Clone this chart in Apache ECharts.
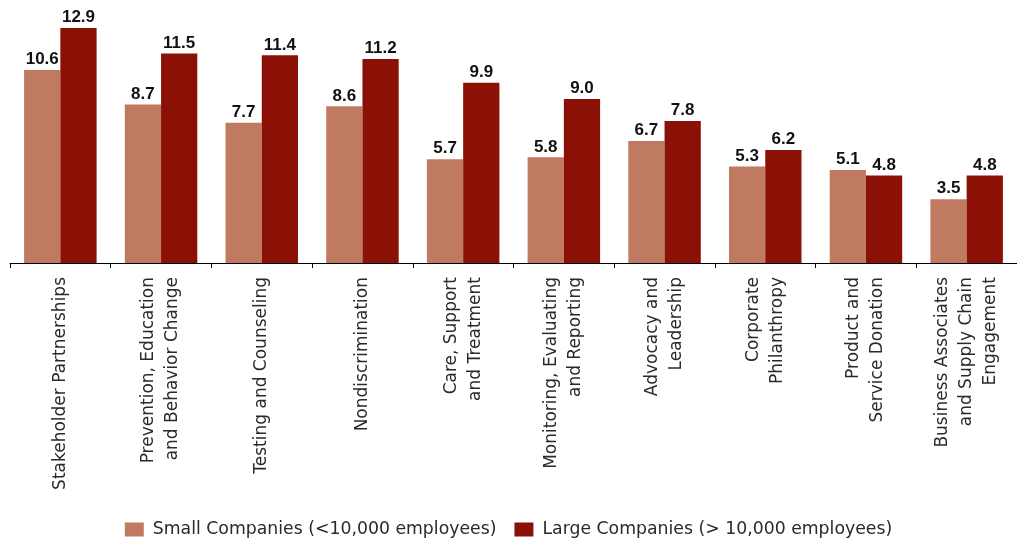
<!DOCTYPE html>
<html>
<head>
<meta charset="utf-8">
<script src="https://cdn.jsdelivr.net/npm/echarts@6/dist/echarts.min.js"></script>
<style>
  html, body { margin: 0; padding: 0; background: #fff; }
  #chart { width: 1017px; height: 539px; }
</style>
</head>
<body>
<div id="chart"></div>
<script>
let categories = [
	'Stakeholder Partnerships',
	'Prevention, Education\nand Behavior Change',
	'Testing and Counseling',
	'Nondiscrimination',
	'Care, Support\nand Treatment',
	'Monitoring, Evaluating\nand Reporting',
	'Advocacy and\nLeadership',
	'Corporate\nPhilanthropy',
	'Product and\nService Donation',
	'Business Associates\nand Supply Chain\nEngagement'
]
let smallData = [10.6, 8.7, 7.7, 8.6, 5.7, 5.8, 6.7, 5.3, 5.1, 3.5]
let largeData = [12.9, 11.5, 11.4, 11.2, 9.9, 9.0, 7.8, 6.2, 4.8, 4.8]
let seriesNames = ['Small Companies (<10,000 employees)', 'Large Companies (> 10,000 employees)']

let chart = echarts.init(document.getElementById('chart'))

// value labels over bars
let valueLabel = {
	show: true,
	position: 'top',
	distance: 2,
	color: '#111',
	fontFamily: 'Liberation Sans',
	fontWeight: 'bold',
	fontSize: 17,
	formatter: p => p.value.toFixed(1)
}

let option = {
	animation: false,
	textStyle: { fontFamily: 'DejaVu Sans' },
	legend: {
		bottom: -4,
		left: 'center',
		itemWidth: 19,
		itemHeight: 14,
		itemGap: 18,
		icon: 'rect',
		textStyle: { fontSize: 17.3, color: '#2a2a2a', fontFamily: 'DejaVu Sans', padding: [0, 0, 0, 4] }
	},
	grid: {
		left: 10,
		right: 0,
		top: 8,
		bottom: 276
	},
	xAxis: {
		type: 'category',
		data: categories,
		axisLine: { lineStyle: { color: '#000', width: 1 } },
		axisTick: { show: true, length: 5, lineStyle: { color: '#000' } },
		axisLabel: {
			rotate: 90,
			interval: 0,
			margin: 14,
			fontSize: 17,
			lineHeight: 24,
			color: '#2a2a2a',
			fontFamily: 'DejaVu Sans'
		}
	},
	yAxis: {
		type: 'value',
		min: 0,
		max: 14,
		show: false,
		splitLine: { show: false }
	},
	series: [{
			name: seriesNames[0],
			type: 'bar',
			data: smallData,
			barGap: '0%',
			barCategoryGap: '28%',
			itemStyle: { color: '#c17a62' },
			label: valueLabel
		},
		{
			name: seriesNames[1],
			type: 'bar',
			data: largeData,
			itemStyle: { color: '#8b1006' },
			label: valueLabel
		}
	]
}

chart.setOption(option)
</script>
</body>
</html>
